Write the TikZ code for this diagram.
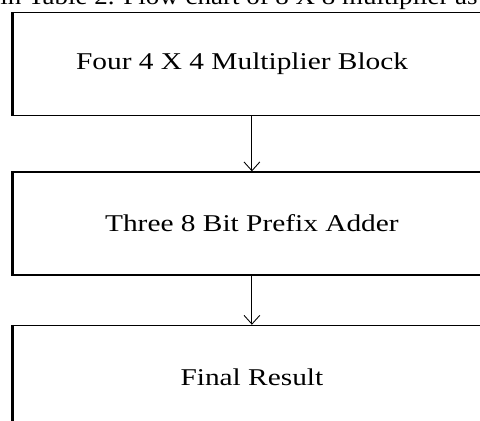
\documentclass[tikz,border=0pt]{standalone}
\usepackage{fontspec}
\setmainfont{Liberation Serif}
\usetikzlibrary{positioning}
\usetikzlibrary{arrows.meta}

\begin{document}
\begin{tikzpicture}[x=0.02cm, y=-0.02cm,
        block/.style={draw, line width=0.8pt, minimum width=9.55cm, minimum height=2.06cm, inner sep=0pt, font=\fontsize{13.7}{16}\selectfont},
        flow/.style={-{Straight Barb[length=5pt,width=9pt]}, line width=0.5pt},
        leftedge/.style={line width=1.5pt}]
        \useasboundingbox (0,0) rectangle (480,420);
        \clip (0,0) rectangle (480,420);
        
        % Caption line, cut by the top of the page
        \node[font=\fontsize{13.7}{16}\selectfont, anchor=base west, inner sep=0pt] (caption) at (0,4) {\scalebox{1.12}[1]{in Table 2. Flow chart of 8 X 8 multiplier as}};
        
        % Blocks
        \node[block, anchor=north west] (mult) at (12.5,12) {\scalebox{1.22}[1]{Four 4 X 4 Multiplier Block}\hspace*{14\pgflinewidth}};
        \node[block, below=1.1cm of mult] (adder) {\scalebox{1.22}[1]{Three 8 Bit Prefix Adder}};
        \node[block, below=0.98cm of adder] (result) {\scalebox{1.22}[1]{Final Result}};
        
        % Heavier left edges
        \foreach \b in {mult,adder,result} {
            \draw[leftedge] (\b.north west) -- (\b.south west); % Left side
        }
        
        % Arrows
        \draw[flow] (mult.south) -- (adder.north);
        \draw[flow] (adder.south) -- (result.north);
    \end{tikzpicture}
\end{document}
